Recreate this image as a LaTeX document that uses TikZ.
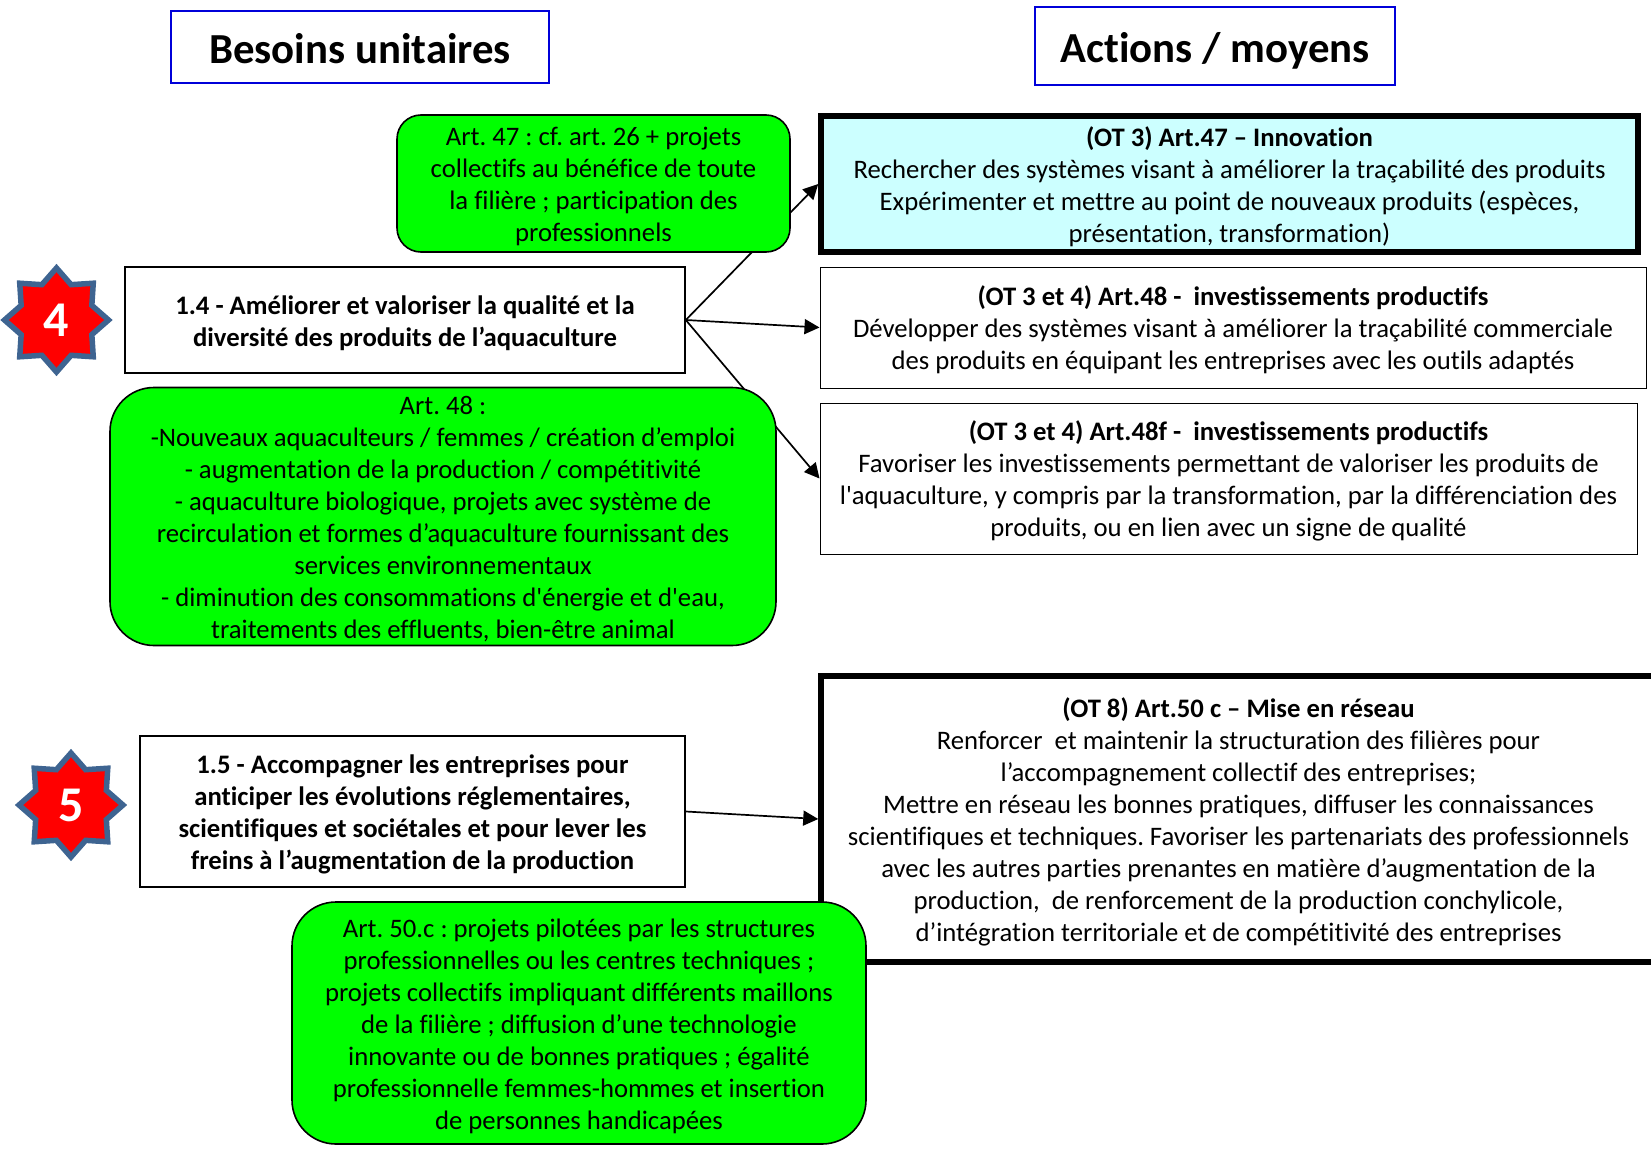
\documentclass[tikz,border=0pt]{standalone}
\usepackage{fontspec}
\setmainfont[Ligatures=NoCommon]{Carlito}
\usetikzlibrary{shapes.geometric,arrows.meta,backgrounds}
\definecolor{stargreen}{HTML}{00FF00}
\definecolor{starblue}{HTML}{3E6491}
\definecolor{paleblue}{HTML}{CCFFFF}
\frenchspacing
\tikzset{
  x=1pt,y=-1pt,
  bodytext/.style={font=\fontsize{26.7}{32}\selectfont,align=center,inner sep=0pt,text=black},
  headbox/.style={draw=blue!85!black,line width=2pt,fill=white,inner sep=0pt,text height=33pt,text depth=0pt,font=\fontsize{42.8}{44}\selectfont\bfseries},
  needbox/.style={bodytext,draw=black,line width=1.6pt,fill=white},
  greenbox/.style={bodytext,draw=black,line width=1.6pt,fill=stargreen,rounded corners=#1},
  greenbox/.default=28pt,
  actionbox/.style={bodytext,draw=black,line width=1pt,fill=white},
  thickbox/.style={bodytext,draw=black,line width=5.5pt,fill=white},
  badge/.style={star,star points=8,star point ratio=1.36,draw=starblue,line width=5.5pt,fill=red,inner sep=0pt,minimum size=104pt,text=white,font=\fontsize{50}{50}\selectfont\bfseries},
  link/.style={-{Triangle[length=15pt,width=15pt]},line width=1.7pt,black},
}
\newcommand{\boxat}[6]{\node[#1,minimum width=#4-#3,minimum height=#6-#5] (#2) at ({(#3+#4)/2},{(#5+#6)/2})}
\newcommand{\txt}[1]{{\rule{0pt}{27pt}#1\rule[-7pt]{0pt}{7pt}}}
\begin{document}
\begin{tikzpicture}
\useasboundingbox (0,0) rectangle (1651,1148);

\boxat{headbox}{besoins}{171}{549}{11}{83} {Besoins unitaires};
\boxat{headbox}{actions}{1035}{1395}{7}{85} {Actions / moyens};

\boxat{thickbox,fill=paleblue}{otA}{821}{1638}{116}{252} {\rule{0pt}{27pt}\textbf{(OT 3) Art.47 – Innovation}\\Rechercher des systèmes visant à améliorer la traçabilité des produits\\Expérimenter et mettre au point de nouveaux produits (espèces,\\présentation, transformation)\rule[-7pt]{0pt}{7pt}};
\boxat{actionbox}{otB}{820}{1646}{267}{388} {\rule{0pt}{27pt}\textbf{(OT 3 et 4) Art.48 - \ investissements productifs}\\Développer des systèmes visant à améliorer la traçabilité commerciale\\des produits en équipant les entreprises avec les outils adaptés\rule[-7pt]{0pt}{7pt}};
\boxat{actionbox}{otC}{820}{1637}{403}{554} {\rule{0pt}{27pt}\textbf{(OT 3 et 4) Art.48f - \ investissements productifs}\\Favoriser les investissements permettant de valoriser les produits de\\l\textquotesingle aquaculture, y compris par la transformation, par la différenciation des\\produits, ou en lien avec un signe de qualité\rule[-7pt]{0pt}{7pt}};
\boxat{thickbox}{otD}{821}{1656}{676}{962} {\rule{0pt}{27pt}\textbf{(OT 8) Art.50 c – Mise en réseau}\\Renforcer \ et maintenir la structuration des filières pour\\l’accompagnement collectif des entreprises;\\Mettre en réseau les bonnes pratiques, diffuser les connaissances\\scientifiques et techniques. Favoriser les partenariats des professionnels\\avec les autres parties prenantes en matière d’augmentation de la\\production, \ de renforcement de la production conchylicole,\\d’intégration territoriale et de compétitivité des entreprises\rule[-7pt]{0pt}{7pt}};

\boxat{needbox,font=\fontsize{26.7}{32}\selectfont\bfseries}{needA}{125}{685}{267}{373} {\rule{0pt}{27pt}1.4 - Améliorer et valoriser la qualité et la\\diversité des produits de l’aquaculture\rule[-7pt]{0pt}{7pt}};
\boxat{needbox,font=\fontsize{26.7}{32}\selectfont\bfseries}{needB}{140}{685}{736}{887} {\rule{0pt}{27pt}1.5 - Accompagner les entreprises pour\\anticiper les évolutions réglementaires,\\scientifiques et sociétales et pour lever les\\freins à l’augmentation de la production\rule[-7pt]{0pt}{7pt}};

\begin{scope}[on background layer]
  \draw[link] (needA.east) -- (otA.west);
  \draw[link] (needA.east) -- (otB.west);
  \draw[link] (needA.east) -- (otC.west);
  \draw[link] (needB.east) -- (otD.west);
\end{scope}

\boxat{greenbox=24pt}{artA}{397}{790}{115}{252} {\rule{0pt}{27pt}Art. 47 : cf. art. 26 + projets\\collectifs au bénéfice de toute\\la filière ; participation des\\professionnels\rule[-7pt]{0pt}{7pt}};
\boxat{greenbox=44pt}{artB}{110}{776}{388}{645} {\rule{0pt}{27pt}Art. 48 :\\-Nouveaux aquaculteurs / femmes / création d’emploi\\- augmentation de la production / compétitivité\\- aquaculture biologique, projets avec système de\\recirculation et formes d’aquaculture fournissant des\\services environnementaux\\- diminution des consommations d\textquotesingle énergie et d\textquotesingle eau,\\traitements des effluents, bien-être animal\rule[-7pt]{0pt}{7pt}};
\boxat{greenbox=44pt}{artC}{292}{866}{902}{1144} {\rule{0pt}{27pt}Art. 50.c : projets pilotées par les structures\\professionnelles ou les centres techniques ;\\projets collectifs impliquant différents maillons\\de la filière ; diffusion d’une technologie\\innovante ou de bonnes pratiques ; égalité\\professionnelle femmes-hommes et insertion\\de personnes handicapées\rule[-7pt]{0pt}{7pt}};

\node[badge] (four) at (56.5,320) {4};
\node[badge] (five) at (71,805) {5};
\end{tikzpicture}
\end{document}
